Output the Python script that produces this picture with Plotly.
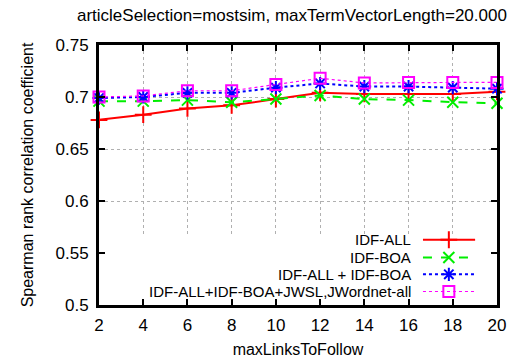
import plotly.graph_objects as go

# maxLinksToFollow values and Spearman coefficients per weighting scheme
links = [2, 4, 6, 8, 10, 12, 14, 16, 18, 20]
idf_all = [0.678, 0.683, 0.689, 0.692, 0.698, 0.704, 0.703, 0.703, 0.703, 0.705]
idf_boa = [0.696, 0.696, 0.697, 0.695, 0.698, 0.7015, 0.698, 0.697, 0.695, 0.694]
idf_all_boa = [0.699, 0.700, 0.704, 0.704, 0.709, 0.713, 0.710, 0.710, 0.709, 0.708]
idf_all_boa_jw = [0.700, 0.701, 0.706, 0.706, 0.712, 0.718, 0.7135, 0.714, 0.714, 0.714]

series_names = ["IDF-ALL", "IDF-BOA", "IDF-ALL + IDF-BOA", "IDF-ALL+IDF-BOA+JWSL,JWordnet-all"]
y_ticks = [0.5, 0.55, 0.6, 0.65, 0.7, 0.75]

styles = [
    dict(color="#ff0000", dash="solid", width=2, symbol="cross-thin", size=12),
    dict(color="#00ee00", dash="dash", width=2, symbol="x-thin", size=11),
    dict(color="#0000ff", dash="dot", width=2, symbol="asterisk", size=11),
    dict(color="#ff00ff", dash="dot", width=1.2, symbol="square-open", size=11),
]

FONT = "Liberation Sans, Arial, sans-serif"
TICK_SIZE = 17
KEY_SIZE = 15
fig = go.Figure()

# White key background, drawn between the grid and the traces
fig.add_shape(type="rect", xref="x", yref="y", x0=2.05, x1=19.95, y0=0.5015, y1=0.568,
              fillcolor="white", line=dict(width=0), layer="between")

for name, vals, st in zip(series_names, [idf_all, idf_boa, idf_all_boa, idf_all_boa_jw], styles):
    fig.add_trace(go.Scatter(
        x=links, y=vals, name=name, mode="lines+markers", cliponaxis=False,
        line=dict(color=st["color"], dash=st["dash"], width=st["width"]),
        marker=dict(symbol=st["symbol"], size=st["size"],
                    line=dict(color=st["color"], width=2), color=st["color"]),
        showlegend=False,
    ))

# Key: text on the left, line sample on the right, one row per series
row_y = [0.251, 0.183, 0.118, 0.052]
for name, st, ry in zip(series_names, styles, row_y):
    fig.add_trace(go.Scatter(
        x=[0.814, 0.945], y=[ry, ry], mode="lines", xaxis="x2", yaxis="y2",
        line=dict(color=st["color"], dash=st["dash"], width=st["width"]),
        showlegend=False, hoverinfo="skip",
    ))
    fig.add_trace(go.Scatter(
        x=[0.879], y=[ry], mode="markers", xaxis="x2", yaxis="y2",
        marker=dict(symbol=st["symbol"], size=st["size"],
                    line=dict(color=st["color"], width=2), color=st["color"]),
        showlegend=False, hoverinfo="skip",
    ))
    fig.add_annotation(
        x=0.786, y=ry, xref="x2", yref="y2", text=name, showarrow=False,
        xanchor="right", yanchor="middle", borderpad=0,
        font=dict(size=KEY_SIZE, color="black", family=FONT),
    )

axis_common = dict(
    showline=True, linecolor="black", linewidth=3, mirror="ticks",
    ticks="inside", ticklen=6, tickwidth=2, tickcolor="black",
    showgrid=True, gridcolor="#b0b0b0", griddash="dot", gridwidth=1,
    zeroline=False, automargin=False,
    tickfont=dict(size=TICK_SIZE, color="black", family=FONT),
)

fig.update_layout(
    width=526, height=362,
    margin=dict(l=99, r=29, t=45, b=57),
    paper_bgcolor="white", plot_bgcolor="white",
    font=dict(family=FONT, color="black"),
    title=dict(text="articleSelection=mostsim, maxTermVectorLength=20.000",
               x=0.555, xanchor="center", y=0.958, yanchor="middle",
               font=dict(size=17, color="black", family=FONT)),
    xaxis=dict(range=[2, 20], tickvals=links, ticklabelstandoff=3,
               title=dict(text="maxLinksToFollow", standoff=10,
                          font=dict(size=16, color="black", family=FONT)), **axis_common),
    yaxis=dict(range=[0.5, 0.75], tickvals=y_ticks, ticklabelstandoff=4,
               title=dict(text="Spearman rank correlation coefficient", standoff=18,
                          font=dict(size=16, color="black", family=FONT)), **axis_common),
    xaxis2=dict(overlaying="x", range=[0, 1], visible=False, fixedrange=True),
    yaxis2=dict(overlaying="y", range=[0, 1], visible=False, fixedrange=True),
)

fig.write_html("out.html")
